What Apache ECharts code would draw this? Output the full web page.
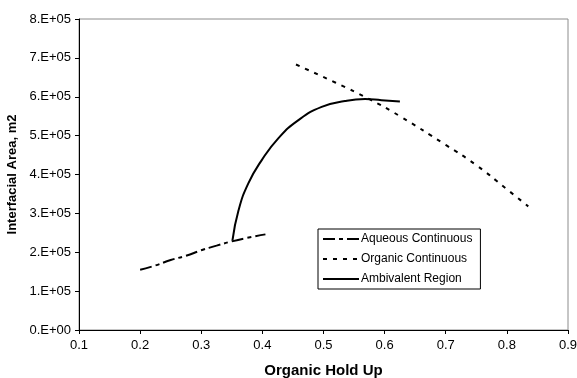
<!DOCTYPE html>
<html>
<head>
<meta charset="utf-8">
<script src="https://cdn.jsdelivr.net/npm/echarts@6/dist/echarts.min.js"></script>
<style>
  html, body { margin: 0; padding: 0; background: #fff; }
  #chart { width: 577px; height: 378px; }
</style>
</head>
<body>
<div id="chart"></div>
<script>
// valeurs : [hold up, aire]
const aqueousContinuous = [
  [0.2, 155000], [0.225, 166000], [0.25, 180000], [0.275, 191000],
  [0.3, 205000], [0.325, 217000], [0.35, 228000], [0.375, 237000], [0.405, 246000]
];
const organicContinuous = [
  [0.455, 683000], [0.52, 636000], [0.576, 593000], [0.625, 550000],
  [0.70, 476000], [0.75, 424000], [0.80, 362000], [0.835, 318000]
];
const ambivalentRegion = [
  [0.351, 230000], [0.361, 308000], [0.377, 377000], [0.399, 437000],
  [0.426, 493000], [0.459, 540000], [0.497, 574000], [0.535, 589000],
  [0.568, 594000], [0.595, 591000], [0.625, 588000]
];
const seriesNames = ['Aqueous Continuous', 'Organic Continuous', 'Ambivalent Region'];

const chart = echarts.init(document.getElementById('chart'), null, { renderer: 'canvas' });

const font = 'Arial, "Liberation Sans", sans-serif';

const option = {
  animation: false,
  grid: {
    left: 79, right: 9, top: 19, bottom: 48,
    outerBoundsMode: 'none',
    containLabel: false,
    show: true, borderColor: '#8c8c8c', borderWidth: 1
  },
  legend: {
    orient: 'vertical',
    left: 318, top: 229,
    padding: [4, 8, 4, 4],
    itemGap: 8,
    itemWidth: 36,
    itemHeight: 14,
    borderColor: '#000', borderWidth: 1,
    backgroundColor: '#fff',
    itemStyle: { opacity: 0 },
    data: seriesNames,
    textStyle: { fontFamily: font, fontSize: 12, color: '#000', padding: [0, 0, 0, -3] }
  },
  xAxis: {
    type: 'value',
    min: 0.1, max: 0.9, interval: 0.1,
    name: 'Organic Hold Up',
    nameLocation: 'middle',
    nameGap: 33,
    nameTextStyle: { fontFamily: font, fontSize: 15, fontWeight: 'bold', color: '#000' },
    axisLine: { lineStyle: { color: '#000', width: 1 } },
    axisTick: { inside: false, length: 4, lineStyle: { color: '#000' } },
    splitLine: { show: false },
    axisLabel: {
      fontFamily: font, fontSize: 13, color: '#000', margin: 9,
      formatter: v => v.toFixed(1)
    }
  },
  yAxis: {
    type: 'value',
    min: 0, max: 800000, interval: 100000,
    name: 'Interfacial Area, m2',
    nameLocation: 'middle',
    nameGap: 57,
    nameTextStyle: { fontFamily: font, fontSize: 13, fontWeight: 'bold', color: '#000' },
    axisLine: { show: true, lineStyle: { color: '#000', width: 1 } },
    axisTick: { show: true, length: 4, lineStyle: { color: '#000' } },
    splitLine: { show: false },
    axisLabel: {
      fontFamily: font, fontSize: 13, color: '#000', margin: 8,
      formatter: v => v === 0 ? '0.E+00' : Math.round(v / 100000) + '.E+05'
    }
  },
  series: [
    {
      name: seriesNames[0], type: 'line', data: aqueousContinuous,
      symbol: 'none', smooth: true,
      lineStyle: { color: '#000', width: 2, type: [12, 4, 4, 4] },
      itemStyle: { color: '#000' }
    },
    {
      name: seriesNames[1], type: 'line', data: organicContinuous,
      symbol: 'none', smooth: true,
      lineStyle: { color: '#000', width: 2, type: [4, 6] },
      itemStyle: { color: '#000' }
    },
    {
      name: seriesNames[2], type: 'line', data: ambivalentRegion,
      symbol: 'none', smooth: true,
      lineStyle: { color: '#000', width: 2, type: 'solid' },
      itemStyle: { color: '#000' }
    }
  ]
};

chart.setOption(option);
</script>
</body>
</html>
